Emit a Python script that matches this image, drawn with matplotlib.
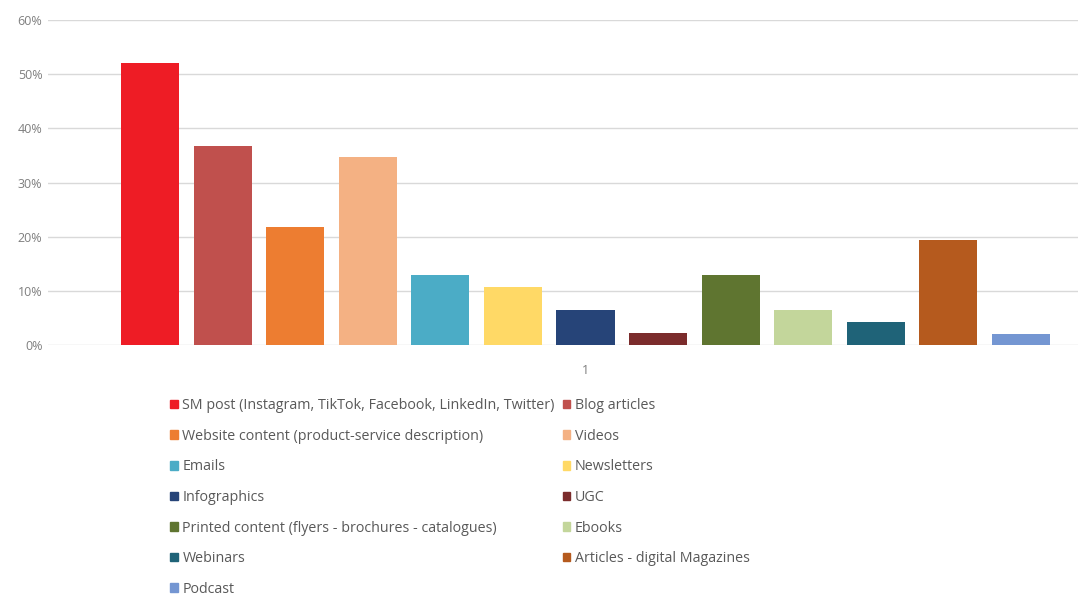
import matplotlib
matplotlib.use("Agg")
import matplotlib.pyplot as plt
import matplotlib.patches as mpatches
import numpy as np
from matplotlib.ticker import PercentFormatter

# Data (share of respondents)
categories = [
    "SM post (Instagram, TikTok, Facebook, LinkedIn, Twitter)",
    "Blog articles",
    "Website content (product-service description)",
    "Videos",
    "Emails",
    "Newsletters",
    "Infographics",
    "UGC",
    "Printed content (flyers - brochures - catalogues)",
    "Ebooks",
    "Webinars",
    "Articles - digital Magazines",
    "Podcast",
]
values = [0.52, 0.367, 0.218, 0.347, 0.129, 0.107, 0.065, 0.022,
          0.129, 0.065, 0.043, 0.194, 0.020]
colors = ["#ee1c25", "#c0504d", "#ed7d31", "#f4b183", "#4bacc6", "#ffd966",
          "#264478", "#7b2c2c", "#5f7530", "#c3d69b", "#1f6378", "#b55a1e",
          "#7496d2"]
group_label = ["1"]

plt.rcParams["font.family"] = ["Open Sans", "DejaVu Sans"]
text_color = "#7f7f7f"

fig = plt.figure(figsize=(10.83, 5.98), dpi=100)
ax = fig.add_axes([48 / 1083, 1 - 345 / 598, 1030 / 1083, 325 / 598])

x = np.arange(len(values))
bars = ax.bar(x, values, width=0.8, color=colors, zorder=3)

ax.set_ylim(0, 0.6)
ax.set_xlim(-1.405, 12.785)
ax.yaxis.set_major_formatter(PercentFormatter(1.0, decimals=0))
ax.set_yticks(np.arange(0, 0.61, 0.1))
ax.grid(axis="y", color="#d9d9d9", linewidth=1, zorder=0)
ax.set_xticks([x.mean()])
ax.set_xticklabels(group_label)
ax.tick_params(axis="both", length=0, labelsize=9, labelcolor=text_color)
ax.tick_params(axis="y", pad=4)
ax.tick_params(axis="x", pad=14)
for s in ax.spines.values():
    s.set_visible(False)

# legend in row-major order: two columns
order = [0, 2, 4, 6, 8, 10, 12, 1, 3, 5, 7, 9, 11]
handles = [mpatches.Patch(color=colors[i], label=categories[i]) for i in order]
fig.legend(handles=handles, ncol=2, loc="upper left",
           bbox_to_anchor=(163 / 1083, 1 - 391 / 598), frameon=False,
           fontsize=10.3, labelcolor="#595959", handlelength=0.55,
           handleheight=0.55, handletextpad=0.3, labelspacing=1.09,
           columnspacing=0.55, borderpad=0)

fig.savefig("out.png", dpi=100)
